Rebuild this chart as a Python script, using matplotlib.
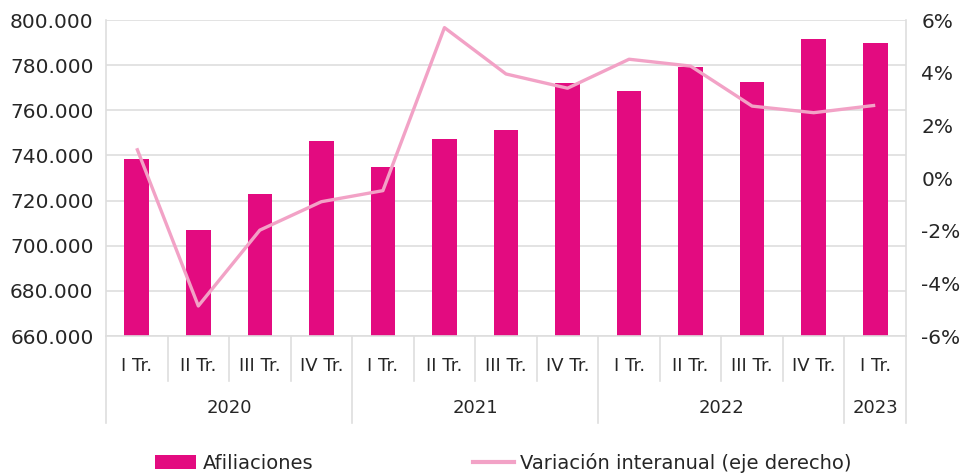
import matplotlib
matplotlib.use("Agg")
import matplotlib.pyplot as plt
from matplotlib.patches import Patch
from matplotlib.lines import Line2D
from matplotlib.ticker import FuncFormatter, FixedLocator

quarters = ["I Tr.", "II Tr.", "III Tr.", "IV Tr.", "I Tr.", "II Tr.", "III Tr.", "IV Tr.",
            "I Tr.", "II Tr.", "III Tr.", "IV Tr.", "I Tr."]
years = ["2020", "2021", "2022", "2023"]
year_sizes = [4, 4, 4, 1]
afiliaciones = [738300, 706800, 722800, 746400, 735000, 747400, 751400, 772200,
                768500, 779300, 772400, 791600, 790000]
variacion = [1.13, -4.86, -1.98, -0.90, -0.48, 5.71, 3.95, 3.41, 4.51, 4.25, 2.73, 2.48, 2.76]

BAR = "#E30B80"
LINE = "#F2A2C6"
GRID = "#DEDEDE"
TXT = "#262626"

plt.rcParams['font.family'] = ['DejaVu Sans']

fig = plt.figure(figsize=(9.72, 4.74), dpi=100)
W, H = 972, 474
L, R, T, B = 106, 906, 20, 336
ax = fig.add_axes([L / W, 1 - B / H, (R - L) / W, (B - T) / H])

x = list(range(len(afiliaciones)))
ax.bar(x, afiliaciones, width=0.4, color=BAR, zorder=2)
ax.set_xlim(-0.5, len(x) - 0.5)
ax.set_ylim(660000, 800000)
ax.yaxis.set_major_locator(FixedLocator(range(660000, 800001, 20000)))
ax.yaxis.set_major_formatter(FuncFormatter(lambda v, p: f"{int(v):,}".replace(",", ".")))
ax.grid(axis='y', color=GRID, linewidth=1.2, zorder=0)
ax.set_xticks([])
for s in ['top', 'bottom']:
    ax.spines[s].set_visible(False)
for s in ['left', 'right']:
    ax.spines[s].set_color(GRID)
    ax.spines[s].set_linewidth(1.2)
ax.tick_params(axis='y', length=0, pad=9, labelsize=14.5, colors=TXT)

ax2 = ax.twinx()
ax2.plot(x, variacion, color=LINE, linewidth=2.4, zorder=3, solid_capstyle='butt')
ax2.set_ylim(-6, 6)
ax2.yaxis.set_major_locator(FixedLocator(range(-6, 7, 2)))
ax2.yaxis.set_major_formatter(FuncFormatter(lambda v, p: f"{int(v)}%"))
ax2.tick_params(axis='y', length=0, pad=11, labelsize=14.5, colors=TXT)
for s in ax2.spines.values():
    s.set_visible(False)

# category axis
trans = ax.get_xaxis_transform()
qy = -(366 - B) / (B - T)
yy = -(408 - B) / (B - T)
short = -(381 - B) / (B - T)
long_ = -(423 - B) / (B - T)
ax.plot([-0.5, len(x) - 0.5], [0, 0], transform=trans, color=GRID, lw=1.2, clip_on=False)
for i, q in enumerate(quarters):
    ax.text(i, qy, q, transform=trans, ha='center', va='center', fontsize=13, color=TXT)
bounds = [-0.5]
for n in year_sizes:
    bounds.append(bounds[-1] + n)
for i in range(len(x) + 1):
    xb = i - 0.5
    ext = long_ if xb in bounds else short
    ax.plot([xb, xb], [0, ext], transform=trans, color=GRID, lw=1.2, clip_on=False)
for k, yr in enumerate(years):
    c = (bounds[k] + bounds[k + 1]) / 2
    ax.text(c, yy, yr, transform=trans, ha='center', va='center', fontsize=13, color=TXT)

handles = [Patch(facecolor=BAR, edgecolor='none'),
           Line2D([0], [0], color=LINE, lw=3)]
fig.legend(handles, ["Afiliaciones", "Variación interanual (eje derecho)"],
           loc='center', bbox_to_anchor=(0.518, 1 - 463 / H), ncol=2, frameon=False,
           fontsize=14, handlelength=2.1, handleheight=0.75, handletextpad=0.35,
           columnspacing=8.2, labelcolor=TXT)

fig.savefig("out.png", dpi=100)
